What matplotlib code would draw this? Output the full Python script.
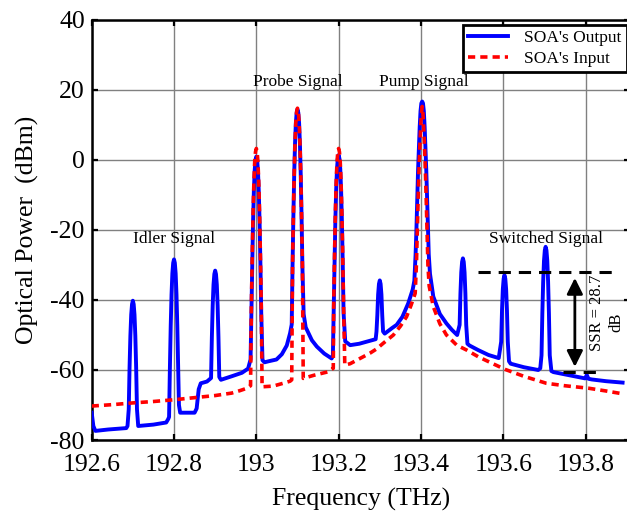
import matplotlib
matplotlib.use('Agg')
import matplotlib.pyplot as plt
import numpy as np

####DATA#####
# SOA output spectrum (THz, dBm)
output_freq = [192.600, 192.604, 192.609, 192.640, 192.684,
               192.687, 192.690, 192.692, 192.694, 192.696, 192.698, 192.700, 192.702, 192.704, 192.706, 192.708, 192.710, 192.713,
               192.750, 192.781,
               192.786, 192.788, 192.790, 192.792, 192.794, 192.796, 192.798, 192.800, 192.802, 192.804, 192.806, 192.808,
               192.810, 192.812, 192.815,
               192.850, 192.855, 192.860, 192.865, 192.880, 192.890,
               192.892, 192.894, 192.896, 192.898, 192.900, 192.902, 192.904, 192.906, 192.908, 192.910, 192.914,
               192.940, 192.965, 192.980, 192.986,
               192.988, 192.990, 192.992, 192.994, 192.996, 192.998, 193.000, 193.002, 193.004, 193.006, 193.008,
               193.010, 193.012, 193.015,
               193.020, 193.030, 193.049, 193.062, 193.074, 193.082, 193.086,
               193.088, 193.090, 193.092, 193.094, 193.096, 193.098, 193.100, 193.102, 193.104, 193.106, 193.108,
               193.110, 193.112, 193.115, 193.120,
               193.135, 193.147, 193.165, 193.183, 193.186,
               193.188, 193.190, 193.192, 193.194, 193.196, 193.198, 193.200, 193.202, 193.204, 193.206, 193.208,
               193.210, 193.212, 193.216,
               193.228, 193.250, 193.290,
               193.292, 193.294, 193.296, 193.298, 193.300, 193.302, 193.304, 193.306, 193.308, 193.312,
               193.330, 193.341, 193.355, 193.369, 193.380, 193.384,
               193.387, 193.389, 193.391, 193.393, 193.395, 193.397, 193.399, 193.401, 193.403, 193.405, 193.407,
               193.409, 193.411, 193.413, 193.415, 193.417, 193.419, 193.422,
               193.430, 193.446, 193.462, 193.475, 193.488,
               193.494, 193.496, 193.498, 193.500, 193.502, 193.504, 193.506, 193.508, 193.510, 193.513, 193.518,
               193.539, 193.564, 193.589,
               193.595, 193.597, 193.599, 193.601, 193.603, 193.605, 193.607, 193.609, 193.611, 193.614, 193.618,
               193.650, 193.685, 193.690,
               193.693, 193.695, 193.697, 193.699, 193.701, 193.703, 193.705, 193.707, 193.709, 193.711, 193.713,
               193.717, 193.722,
               193.760, 193.799, 193.803, 193.807, 193.815, 193.850, 193.890]
output_power = [-72.2, -76.0, -77.4, -77.0, -76.6,
                -76.0, -71.2, -59.2, -50.2, -44.2, -41.2, -40.2, -41.2, -44.2, -50.2, -59.2, -71.2, -76.0,
                -75.6, -75.0,
                -74.0, -73.4, -59.4, -47.4, -38.4, -32.4, -29.4, -28.4, -29.4, -32.4, -38.4, -47.4,
                -59.4, -70.0, -72.2,
                -72.2, -71.0, -65.5, -63.8, -63.3, -62.3,
                -50.6, -41.6, -35.6, -32.6, -31.6, -32.6, -35.6, -41.6, -50.6, -62.0, -62.8,
                -61.8, -60.8, -59.6, -57.0,
                -44.0, -30.0, -18.0, -9.0, -3.0, 0.0, 1.0, 0.0, -3.0, -9.0, -18.0,
                -30.0, -44.0, -57.2,
                -57.8, -57.5, -57.0, -55.5, -53.0, -49.5, -47.0,
                -30.5, -16.5, -4.5, 4.5, 10.5, 13.5, 14.5, 13.5, 10.5, 4.5, -4.5,
                -16.5, -30.5, -44.0, -47.8,
                -51.5, -53.3, -55.3, -56.7, -56.0,
                -43.6, -29.6, -17.6, -8.6, -2.6, 0.4, 1.4, 0.4, -2.6, -8.6, -17.6,
                -29.6, -43.6, -51.8,
                -52.9, -52.5, -51.2,
                -49.0, -44.4, -38.4, -35.4, -34.4, -35.4, -38.4, -44.4, -49.0, -49.6,
                -48.0, -47.1, -44.8, -41.0, -37.0, -34.5,
                -27.0, -20.0, -11.0, -3.0, 3.5, 9.5, 14.0, 16.2, 16.7, 16.2, 14.0,
                9.5, 3.5, -3.0, -11.0, -20.0, -27.0, -32.5,
                -39.0, -44.0, -46.7, -48.5, -50.0,
                -47.1, -38.1, -32.1, -29.1, -28.1, -29.1, -32.1, -38.1, -47.1, -52.5, -53.0,
                -54.3, -55.7, -56.6,
                -51.9, -42.9, -36.9, -33.9, -32.9, -33.9, -36.9, -42.9, -51.9, -57.5, -58.2,
                -59.2, -60.0, -59.5,
                -55.8, -43.8, -34.8, -28.8, -25.8, -24.8, -25.8, -28.8, -34.8, -43.8, -55.8,
                -60.3, -60.6,
                -61.5, -62.4, -61.4, -62.5, -62.7, -63.2, -63.6]

# SOA input spectrum (THz, dBm)
input_freq = [192.600, 192.650, 192.700, 192.750, 192.800, 192.850, 192.900, 192.940, 192.960, 192.975, 192.986,
              192.988, 192.990, 192.992, 192.994, 192.996, 192.998, 193.000, 193.002, 193.004, 193.006, 193.008,
              193.010, 193.012, 193.014,
              193.041, 193.065, 193.082, 193.086,
              193.088, 193.090, 193.092, 193.094, 193.096, 193.098, 193.100, 193.102, 193.104, 193.106, 193.108,
              193.110, 193.112, 193.114,
              193.140, 193.175, 193.187,
              193.188, 193.190, 193.192, 193.194, 193.196, 193.198, 193.200, 193.202, 193.204, 193.206, 193.208,
              193.210, 193.212, 193.215,
              193.228, 193.252, 193.276, 193.292, 193.310, 193.333, 193.350, 193.365, 193.376, 193.386,
              193.389, 193.391, 193.393, 193.395, 193.397, 193.399, 193.401, 193.403, 193.405, 193.407, 193.409,
              193.411, 193.413, 193.415, 193.417, 193.420,
              193.430, 193.446, 193.462, 193.487, 193.511, 193.539, 193.564, 193.604,
              193.650, 193.705, 193.750, 193.807, 193.850, 193.890]
input_power = [-70.3, -69.9, -69.4, -69.0, -68.5, -67.9, -67.3, -66.6, -65.9, -65.3, -64.5,
               -41.7, -27.7, -15.7, -6.7, -0.7, 2.3, 3.3, 2.3, -0.7, -6.7, -15.7,
               -27.7, -41.7, -64.8,
               -64.6, -63.8, -63.2, -62.8,
               -30.2, -16.2, -4.2, 4.8, 10.8, 13.8, 14.8, 13.8, 10.8, 4.8, -4.2,
               -16.2, -30.2, -62.4,
               -61.5, -60.5, -59.5,
               -41.7, -27.7, -15.7, -6.7, -0.7, 2.3, 3.3, 2.3, -0.7, -6.7, -15.7,
               -27.7, -41.7, -58.6,
               -58.2, -56.7, -55.2, -54.0, -52.2, -50.0, -47.5, -44.8, -41.5, -38.1,
               -30.0, -21.0, -12.0, -4.0, 3.0, 8.5, 13.0, 15.3, 13.0, 8.5, 3.0,
               -4.0, -12.0, -21.0, -30.0, -36.0,
               -41.9, -46.8, -50.0, -52.9, -54.3, -56.2, -57.6, -59.8,
               -61.8, -63.8, -64.5, -65.2, -66.0, -66.8]

# signal labels: (text, frequency, power)
signal_labels = [('Idler Signal', 192.80, -22.6),
                 ('Probe Signal', 193.10, 22.3),
                 ('Pump Signal', 193.407, 22.3),
                 ('Switched Signal', 193.705, -22.6)]

# side-mode suppression ratio marker
ssr_top = -32.0
ssr_value = 28.7
ssr_bottom = ssr_top - ssr_value

####PLOT########
plt.rcParams['font.family'] = ['Liberation Serif', 'DejaVu Serif']
plt.rcParams['axes.unicode_minus'] = False

fig = plt.figure(figsize=(6.27, 5.19), dpi=100)
# axes runs slightly past the right edge of the figure
ax = fig.add_axes([91.7 / 627, 79 / 519, 538.3 / 627, 420 / 519])

ax.plot(output_freq, output_power, color='#0000ff', linewidth=2.8, label="SOA's Output", zorder=3)
ax.plot(input_freq, input_power, color='#ff0000', linewidth=2.6, linestyle=(0, (2.0, 1.4)),
        label="SOA's Input", zorder=4)

ax.set_xlim(192.6, 193.908)
ax.set_ylim(-80, 40)
ax.set_xticks([192.6, 192.8, 193.0, 193.2, 193.4, 193.6, 193.8])
ax.set_xticklabels(['192.6', '192.8', '193', '193.2', '193.4', '193.6', '193.8'])
ax.set_yticks([-80, -60, -40, -20, 0, 20, 40])

ax.grid(True, color='#808080', linewidth=1.0)
ax.set_axisbelow(True)
ax.tick_params(direction='in', length=4.5, width=1.6, labelsize=18.5, top=True, right=True)
ax.tick_params(axis='x', pad=10)
ax.tick_params(axis='y', pad=5)
for s in ax.spines.values():
    s.set_linewidth(1.8)

ax.set_xlabel('Frequency (THz)', fontsize=18.5, labelpad=9)
ax.set_ylabel('Optical Power  (dBm)', fontsize=18.5, labelpad=8.5)

for txt, fx, py in signal_labels:
    ax.text(fx, py, txt, fontsize=12.5, ha='center', va='center')

# SSR marker lines and arrow
ax.plot([193.539, 193.867], [ssr_top, ssr_top], color='black', linewidth=2.2,
        linestyle=(0, (4, 2.6)), zorder=5)
ax.plot([193.746, 193.843], [ssr_bottom, ssr_bottom], color='black', linewidth=2.2,
        linestyle=(0, (4, 2.6)), zorder=5)
ax.annotate('', xy=(193.774, ssr_top - 1.7), xytext=(193.774, ssr_bottom + 1.6),
            arrowprops=dict(arrowstyle='<|-|>', color='black', lw=2.0, mutation_scale=24,
                            shrinkA=0, shrinkB=0), zorder=6)
ax.text(193.828, -43.7, 'SSR = %.1f' % ssr_value, fontsize=12, rotation=90, ha='center', va='center')
ax.text(193.876, -46.5, 'dB', fontsize=12, rotation=90, ha='center', va='center')

leg = ax.legend(loc='upper right', bbox_to_anchor=(0.9939, 0.988), borderaxespad=0,
                fontsize=12.5, fancybox=False, framealpha=1, edgecolor='black',
                handlelength=2.3, handletextpad=0.95, borderpad=0.3, labelspacing=0.25)
leg.get_frame().set_linewidth(2.0)

plt.savefig('out.png', dpi=100)
